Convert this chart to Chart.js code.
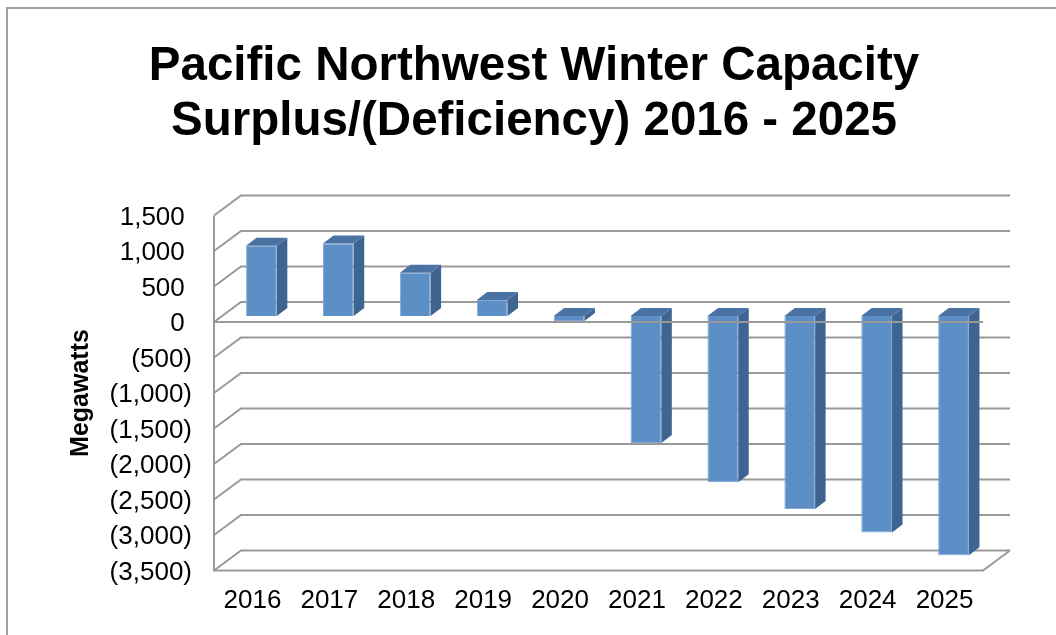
<!DOCTYPE html>
<html>
<head>
<meta charset="utf-8">
<script src="https://cdn.jsdelivr.net/npm/chart.js@4.4.1/dist/chart.umd.min.js"></script>
<style>
    html, body { margin: 0; padding: 0; background: #fff; }
    #wrap { width: 1056px; height: 635px; position: relative; }
</style>
</head>
<body>
<div id="wrap"><canvas id="capacityChart"></canvas></div>
<script>
// chart data
const years = ['2016', '2017', '2018', '2019', '2020', '2021', '2022', '2023', '2024', '2025'];
const surplusMW = [990, 1020, 610, 225, -70, -1790, -2340, -2720, -3050, -3370];
const yTicks = [1500, 1000, 500, 0, -500, -1000, -1500, -2000, -2500, -3000, -3500];
const yTickLabels = ['1,500 ', '1,000 ', '500 ', '0 ', '(500)', '(1,000)', '(1,500)', '(2,000)', '(2,500)', '(3,000)', '(3,500)'];

const FONT = "'Liberation Sans', Arial, sans-serif";
const GRID = '#999999';
// depth of the back wall and of the bars (3d look)
const WALL_DX = 27, WALL_DY = 20;
const BAR_SHIFT_X = 9, BAR_SHIFT_Y = 6;
const BAR_DX = 10.5, BAR_DY = 8;

const frame3d = {
    id: 'frame3d',
    beforeDraw(chart) {
        const c = chart.ctx;
        c.save();
        c.strokeStyle = '#a0a0a0';
        c.lineWidth = 2;
        c.beginPath();
        c.moveTo(7, chart.height);
        c.lineTo(7, 8);
        c.lineTo(chart.width, 8);
        c.stroke();
        c.restore();
    },
    beforeDatasetsDraw(chart) {
        const c = chart.ctx;
        const y = chart.scales.y;
        const { left, right } = chart.chartArea;
        c.save();
        c.strokeStyle = GRID;
        c.lineWidth = 2;
        // left wall + back wall lines
        yTicks.forEach(v => {
            const py = y.getPixelForValue(v);
            c.beginPath();
            c.moveTo(left, py);
            c.lineTo(left + WALL_DX, py - WALL_DY);
            c.lineTo(right + WALL_DX, py - WALL_DY);
            c.stroke();
        });
        const top = y.getPixelForValue(yTicks[0]);
        const bottom = y.getPixelForValue(yTicks[yTicks.length - 1]);
        c.beginPath();
        c.moveTo(left, top);
        c.lineTo(left, bottom);
        c.lineTo(right, bottom);
        c.lineTo(right + WALL_DX, bottom - WALL_DY);
        c.stroke();
        c.restore();

        c.save();
        c.translate(BAR_SHIFT_X, -BAR_SHIFT_Y);
    },
    afterDatasetsDraw(chart) {
        const c = chart.ctx;
        const meta = chart.getDatasetMeta(0);
        meta.data.forEach(bar => {
            const p = bar.getProps(['x', 'y', 'base', 'width'], true);
            const l = p.x - p.width / 2, r = p.x + p.width / 2;
            const t = Math.min(p.y, p.base), b = Math.max(p.y, p.base);
            // side face
            c.fillStyle = '#3e6591';
            c.beginPath();
            c.moveTo(r, t);
            c.lineTo(r + BAR_DX, t - BAR_DY);
            c.lineTo(r + BAR_DX, b - BAR_DY);
            c.lineTo(r, b);
            c.closePath();
            c.fill();
            // top face
            c.fillStyle = '#4a73a3';
            c.beginPath();
            c.moveTo(l, t);
            c.lineTo(l + BAR_DX, t - BAR_DY);
            c.lineTo(r + BAR_DX, t - BAR_DY);
            c.lineTo(r, t);
            c.closePath();
            c.fill();
        });
        c.restore();

        // front edge of the zero line sits over the bars
        const { left, right } = chart.chartArea;
        const zero = chart.scales.y.getPixelForValue(0);
        c.save();
        c.strokeStyle = GRID;
        c.lineWidth = 2;
        c.beginPath();
        c.moveTo(left, zero);
        c.lineTo(right, zero);
        c.stroke();
        c.restore();
    }
};

document.addEventListener('DOMContentLoaded', function() {
    const ctx = document.getElementById('capacityChart');
    new Chart(ctx, {
        type: 'bar',
        data: {
            labels: years,
            datasets: [{
                label: 'Surplus/(Deficiency)',
                data: surplusMW,
                backgroundColor: '#5b8fc6',
                borderColor: '#86a9d4',
                borderWidth: 1,
                categoryPercentage: 1,
                barPercentage: 0.4,
                clip: false
            }]
        },
        options: {
            responsive: true,
            maintainAspectRatio: false,
            animation: false,
            events: [],
            layout: { padding: { left: 12, right: 0, top: 0, bottom: 0 } },
            scales: {
                x: {
                    grid: { display: false, drawTicks: false },
                    border: { display: false },
                    ticks: {
                        color: '#000',
                        padding: 15,
                        font: { family: FONT, size: 26 }
                    },
                    afterFit(scale) { scale.height = 64.5; }
                },
                y: {
                    min: -3500,
                    max: 1500,
                    afterBuildTicks(scale) {
                        scale.ticks = yTicks.map(v => ({ value: v }));
                    },
                    grid: { display: false, drawTicks: false },
                    border: { display: false },
                    ticks: {
                        color: '#000',
                        padding: 22,
                        labelOffset: 2,
                        font: { family: FONT, size: 26 },
                        callback: function(value) {
                            return yTickLabels[yTicks.indexOf(value)];
                        }
                    },
                    title: {
                        display: true,
                        text: 'Megawatts',
                        color: '#000',
                        padding: { top: 54, bottom: 0 },
                        font: { family: FONT, size: 25, weight: 'bold' }
                    },
                    afterFit(scale) { scale.width = 202; }
                },
                // empty box on the right so the plot ends where the reference does
                spacer: {
                    type: 'linear',
                    position: 'right',
                    grid: { display: false, drawTicks: false },
                    border: { display: false },
                    ticks: { display: false },
                    afterFit(scale) { scale.width = 73; }
                }
            },
            plugins: {
                legend: { display: false },
                tooltip: { enabled: false },
                title: {
                    display: true,
                    text: ['Pacific Northwest Winter Capacity', 'Surplus/(Deficiency) 2016 - 2025'],
                    color: '#000',
                    padding: { top: 39.75, bottom: 66.75 },
                    font: { family: FONT, size: 47.5, weight: 'bold', lineHeight: 1.147 }
                }
            }
        },
        plugins: [frame3d]
    });
});
</script>
</body>
</html>
